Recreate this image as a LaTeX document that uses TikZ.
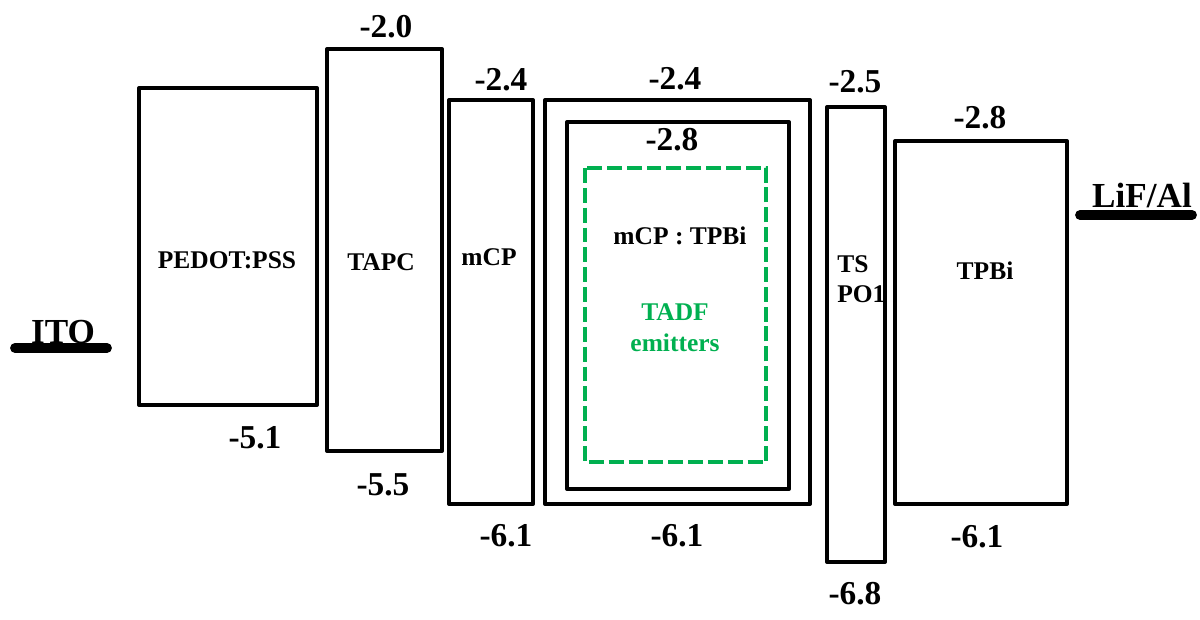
\documentclass[tikz,border=0pt]{standalone}
\usepackage{fontspec}
\setmainfont{Liberation Serif}
\usetikzlibrary{positioning}
\definecolor{emitgreen}{RGB}{0,176,80}

\begin{document}
\begin{tikzpicture}[
      x=0.02cm, y=-0.02cm,
      every node/.style={inner sep=0pt, font=\bfseries},
      layer/.style={draw, line width=2.3pt, line join=round},
      dopant/.style={draw=emitgreen, line width=2.8pt, dash pattern=on 8.5pt off 2.8pt},
      electrode/.style={line width=5.6pt, line cap=round},
      level/.style={anchor=base, font=\fontsize{19}{22}\selectfont\bfseries},
      material/.style={anchor=base, font=\fontsize{14.5}{17.5}\selectfont\bfseries},
      contact/.style={anchor=base, font=\fontsize{20}{24}\selectfont\bfseries}
  ]
    \useasboundingbox (0,0) rectangle (1200,619);
    % electrodes
    \coordinate (itoL) at (15,348);
    \coordinate (itoR) at (107,348);
    \coordinate (lifL) at (1080,215);
    \coordinate (lifR) at (1192,215);
    \draw[electrode] (itoL) -- (itoR);
    \draw[electrode] (lifL) -- (lifR);
    \node[contact] (ito) at (63,343) {ITO};
    \node[contact] (lif) at (1142,207) {LiF/Al};
    % layers
    \draw[layer] (139,88) rectangle (317,405);
    \draw[layer] (327,49) rectangle (442,451);
    \draw[layer] (449,100) rectangle (533,504);
    \draw[layer] (545,100) rectangle (810,504);
    \draw[layer] (567,122) rectangle (789,489);
    \draw[dopant] (585,168) rectangle (766,462);
    \draw[layer] (827,107) rectangle (885,562);
    \draw[layer] (895,141) rectangle (1067,504);
    % layer names
    \node[material] (pedot) at (227,268) {PEDOT:PSS};
    \node[material] (tapc) at (381,270) {TAPC};
    \node[material] (mcp) at (489,265) {mCP};
    \node[material] (host) at (680,244) {mCP : TPBi};
    \node[material, anchor=center, align=center, text=emitgreen,
          font=\fontsize{14.5}{17.5}\selectfont\bfseries] (tadf) at (675,328) {TADF\\emitters};
    \node[material, anchor=west, align=left,
          font=\fontsize{14.5}{17}\selectfont\bfseries] (tspo) at (837,279) {TS\\PO1};
    \node[material] (tpbi) at (985,279) {TPBi};
    % LUMO levels
    \node[level] (lumoTapc) at (386,37) {-2.0};
    \node[level] (lumoMcp) at (501,90) {-2.4};
    \node[level] (lumoEml) at (675,89) {-2.4};
    \node[level] (lumoHost) at (672,150) {-2.8};
    \node[level] (lumoTspo) at (855,92) {-2.5};
    \node[level] (lumoTpbi) at (980,128) {-2.8};
    % HOMO levels
    \node[level] (homoPedot) at (255,448) {-5.1};
    \node[level] (homoTapc) at (383,495) {-5.5};
    \node[level] (homoMcp) at (506,546) {-6.1};
    \node[level] (homoEml) at (677,546) {-6.1};
    \node[level] (homoTspo) at (855,604) {-6.8};
    \node[level] (homoTpbi) at (977,547) {-6.1};
  \end{tikzpicture}
\end{document}
